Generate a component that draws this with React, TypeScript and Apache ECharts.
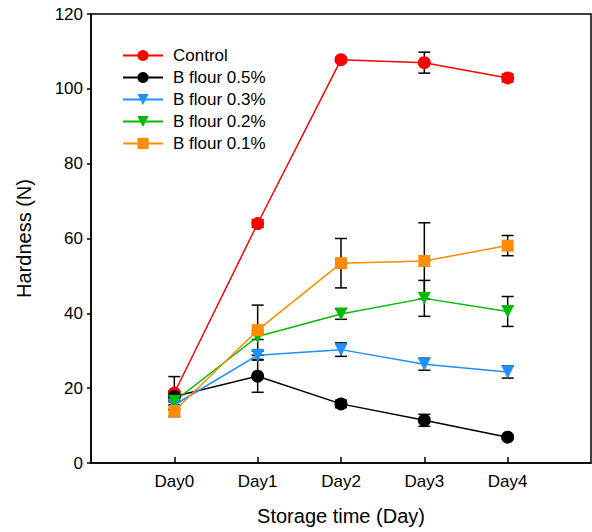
import React, { useEffect, useRef } from "react";
import * as echarts from "echarts";

const days = ["Day0", "Day1", "Day2", "Day3", "Day4"];
const seriesNames = ["Control", "B flour 0.5%", "B flour 0.3%", "B flour 0.2%", "B flour 0.1%"];
const controlMean = [18.7, 64.0, 107.8, 107.0, 102.9];
const controlErr = [4.4, 1.0, 0.6, 2.8, 1.0];
const b05Mean = [17.8, 23.2, 15.8, 11.4, 6.9];
const b05Err = [1.5, 4.3, 1.0, 1.6, 0.5];
const b03Mean = [15.5, 28.8, 30.3, 26.4, 24.3];
const b03Err = [1.2, 1.1, 1.8, 1.6, 1.6];
const b02Mean = [16.5, 33.8, 39.8, 44.0, 40.5];
const b02Err = [1.0, 0.8, 1.4, 4.8, 4.0];
const b01Mean = [13.9, 35.5, 53.4, 54.0, 58.1];
const b01Err = [1.5, 6.7, 6.6, 10.2, 2.7];

const colors = ["#ff0000", "#000000", "#1e90ff", "#00bb00", "#ff8c00"];
const symbols = ["circle", "circle", "triangle", "triangle", "rect"];
const rotates = [0, 0, 180, 180, 0];
const means = [controlMean, b05Mean, b03Mean, b02Mean, b01Mean];
const errs = [controlErr, b05Err, b03Err, b02Err, b01Err];

export default function App() {
  const ref = useRef<HTMLDivElement>(null);
  useEffect(() => {
    if (!ref.current) return;
    const chart = echarts.init(ref.current, null, { renderer: "svg" });
    const lineSeries: any[] = seriesNames.map((name, i) => ({
      name,
      type: "line",
      data: means[i].map((v, j) => [j, v]),
      symbol: symbols[i],
      symbolSize: symbols[i] === "rect" ? 12 : 13,
      symbolRotate: rotates[i],
      lineStyle: { color: colors[i], width: 1.5 },
      itemStyle: { color: colors[i] },
      z: 3,
    }));
    const errSeries: any[] = seriesNames.map((name, i) => ({
      name: name + "_err",
      type: "custom",
      data: means[i].map((v, j) => [j, v - errs[i][j], v + errs[i][j]]),
      z: 2,
      silent: true,
      renderItem: (params: any, api: any) => {
        const x = api.value(0);
        const lo = api.coord([x, api.value(1)]);
        const hi = api.coord([x, api.value(2)]);
        const hw = 6;
        const style = { stroke: "#000", lineWidth: 1.5 };
        return {
          type: "group",
          children: [
            { type: "line", shape: { x1: lo[0], y1: lo[1], x2: hi[0], y2: hi[1] }, style },
            { type: "line", shape: { x1: lo[0] - hw, y1: lo[1], x2: lo[0] + hw, y2: lo[1] }, style },
            { type: "line", shape: { x1: hi[0] - hw, y1: hi[1], x2: hi[0] + hw, y2: hi[1] }, style },
          ],
        };
      },
    }));
    chart.setOption({
      animation: false,
      textStyle: { fontFamily: "Liberation Sans, Arial, sans-serif" },
      grid: { left: 91, right: 1, top: 14, bottom: 69, show: true, borderColor: "#000", borderWidth: 1.5 },
      legend: {
        data: seriesNames,
        orient: "vertical",
        left: 117,
        top: 42,
        itemWidth: 40,
        itemHeight: 14,
        itemGap: 5,
        textStyle: { fontSize: 17, lineHeight: 17, color: "#000", padding: [0, 0, 0, 5] },
      },
      xAxis: {
        type: "value",
        min: -1,
        max: 5,
        interval: 1,
        name: "Storage time (Day)",
        nameLocation: "middle",
        nameGap: 43,
        nameTextStyle: { fontSize: 20, color: "#000" },
        axisLine: { onZero: false, lineStyle: { color: "#000", width: 1.5 } },
        axisTick: { inside: true, length: 6, lineStyle: { color: "#000", width: 1.5 }, customValues: [0, 1, 2, 3, 4] },
        axisLabel: {
          fontSize: 17,
          color: "#000",
          margin: 10,
          customValues: [0, 1, 2, 3, 4],
          formatter: (v: number) => days[v] ?? "",
        },
        splitLine: { show: false },
      },
      yAxis: {
        type: "value",
        min: 0,
        max: 120,
        interval: 20,
        name: "Hardness (N)",
        nameLocation: "middle",
        nameGap: 57,
        nameTextStyle: { fontSize: 20, color: "#000" },
        axisLine: { show: true, onZero: false, lineStyle: { color: "#000", width: 1.5 } },
        axisTick: { show: true, inside: false, length: 4, lineStyle: { color: "#000", width: 1.5 } },
        axisLabel: { fontSize: 17, color: "#000", margin: 8 },
        splitLine: { show: false },
      },
      series: [...errSeries, ...lineSeries],
    });
    return () => chart.dispose();
  }, []);
  return <div ref={ref} style={{ position: "absolute", left: 0, top: 0, width: 592, height: 532 }} />;
}
